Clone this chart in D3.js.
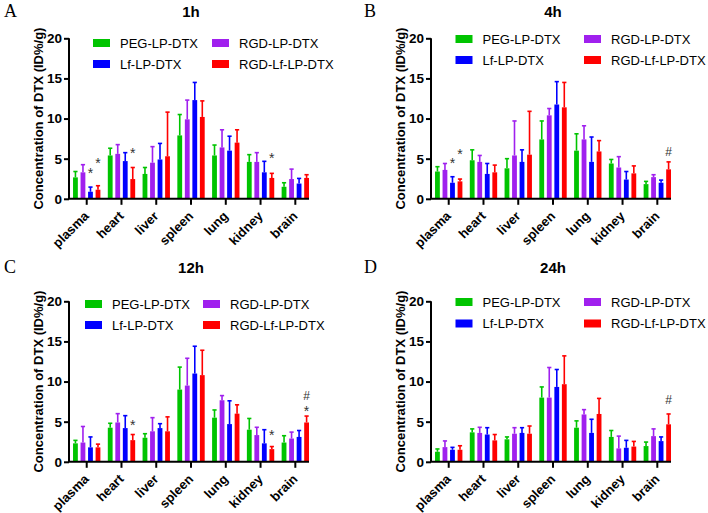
<!DOCTYPE html>
<html><head><meta charset="utf-8">
<script src="https://cdn.jsdelivr.net/npm/d3@7"></script>
<style>
html,body{margin:0;padding:0;background:#fff;}
svg{display:block;font-family:"Liberation Sans",Arial,sans-serif;}
</style></head>
<body>
<svg id="chart" width="708" height="513"></svg>
<script>
// ---- data ----
const categories = ["plasma","heart","liver","spleen","lung","kidney","brain"];
const seriesOrder = ["PEG-LP-DTX","RGD-LP-DTX","Lf-LP-DTX","RGD-Lf-LP-DTX"];   // bar order in each group
const legendOrder = ["PEG-LP-DTX","Lf-LP-DTX","RGD-LP-DTX","RGD-Lf-LP-DTX"];   // column-wise legend order
const seriesColors = ["#00c400","#a020ee","#0000ff","#ff0000"];
const yTicks = [0,5,10,15,20];
const panelTitles = ["1h","4h","12h","24h"];
const panelLetters = ["A","B","C","D"];

// 1h
const mean1h_PEG   = [2.67,5.4,3.1,7.9,5.4,4.6,1.5];
const sd1h_PEG     = [0.73,0.9,0.8,2.6,1.3,0.9,0.5];
const mean1h_RGD   = [3.3,5.6,4.5,9.9,6.4,4.6,2.46];
const sd1h_RGD     = [0.95,1.15,2.0,2.4,2.2,1.15,1.24];
const mean1h_Lf    = [0.88,4.7,4.9,12.3,6.0,3.3,1.9];
const sd1h_Lf      = [0.58,1.05,2.0,2.2,1.8,1.37,0.64];
const mean1h_RGDLf = [1.13,2.46,5.3,10.2,7.0,2.6,2.6];
const sd1h_RGDLf   = [0.5,1.44,5.5,2.0,1.6,0.57,0.4];
// 4h
const mean4h_PEG   = [3.4,4.8,3.8,7.4,6.0,4.4,1.83];
const sd4h_PEG     = [0.6,1.3,1.2,2.3,2.1,0.5,0.34];
const mean4h_RGD   = [3.6,4.6,5.4,10.4,7.4,3.9,2.7];
const sd4h_RGD     = [0.8,0.8,4.3,0.85,1.7,1.35,0.3];
const mean4h_Lf    = [2.0,3.1,4.6,11.75,4.6,2.4,2.0];
const sd4h_Lf      = [0.75,1.3,1.5,2.85,3.1,1.0,0.33];
const mean4h_RGDLf = [2.17,3.3,5.5,11.4,5.9,3.17,3.67];
const sd4h_RGDLf   = [0.29,0.9,5.4,3.1,1.35,0.93,0.93];
// 12h
const mean12h_PEG   = [2.3,4.25,3.0,9.0,5.5,4.0,2.4];
const sd12h_PEG     = [0.37,0.55,0.5,2.8,0.96,1.4,0.85];
const mean12h_RGD   = [2.4,4.9,3.8,9.5,7.67,3.33,2.9];
const sd12h_RGD     = [2.0,1.1,1.7,3.4,0.58,0.97,0.8];
const mean12h_Lf    = [1.8,4.2,4.2,11.0,4.7,2.3,3.1];
const sd12h_Lf      = [1.3,1.55,0.55,3.4,2.9,1.7,0.8];
const mean12h_RGDLf = [1.8,2.7,3.8,10.8,6.0,1.58,4.9];
const sd12h_RGDLf   = [0.4,0.7,1.8,3.1,1.1,0.32,0.8];
// 24h
const mean24h_PEG   = [1.25,3.67,2.8,8.0,4.25,3.1,1.96];
const sd24h_PEG     = [0.35,0.43,0.3,1.33,0.85,0.8,0.5];
const mean24h_RGD   = [1.83,3.6,3.5,8.0,5.9,1.67,3.2];
const sd24h_RGD     = [0.77,0.7,0.75,3.75,0.6,1.53,0.9];
const mean24h_Lf    = [1.5,3.4,3.6,9.33,3.6,1.75,2.58];
const sd24h_Lf      = [0.3,0.85,0.65,2.17,1.7,0.92,0.52];
const mean24h_RGDLf = [1.5,2.67,3.5,9.67,5.96,1.9,4.67];
const sd24h_RGDLf   = [0.5,0.73,0.96,3.53,1.94,0.64,1.29];

// significance marks: [category, series, symbol, y value of symbol centre]
const marks1h  = [["plasma","Lf-LP-DTX","*",3.6],["plasma","RGD-Lf-LP-DTX","*",4.8],["heart","RGD-Lf-LP-DTX","*",6.1],["kidney","RGD-Lf-LP-DTX","*",5.46]];
const marks4h  = [["plasma","Lf-LP-DTX","*",4.8],["plasma","RGD-Lf-LP-DTX","*",5.9],["brain","RGD-Lf-LP-DTX","#",5.83]];
const marks12h = [["heart","RGD-Lf-LP-DTX","*",4.9],["kidney","RGD-Lf-LP-DTX","*",3.75],["brain","RGD-Lf-LP-DTX","*",6.72],["brain","RGD-Lf-LP-DTX","#",8.2]];
const marks24h = [["brain","RGD-Lf-LP-DTX","#",7.7]];

const panelData = [
  {means:[mean1h_PEG,mean1h_RGD,mean1h_Lf,mean1h_RGDLf], sds:[sd1h_PEG,sd1h_RGD,sd1h_Lf,sd1h_RGDLf], marks:marks1h},
  {means:[mean4h_PEG,mean4h_RGD,mean4h_Lf,mean4h_RGDLf], sds:[sd4h_PEG,sd4h_RGD,sd4h_Lf,sd4h_RGDLf], marks:marks4h},
  {means:[mean12h_PEG,mean12h_RGD,mean12h_Lf,mean12h_RGDLf], sds:[sd12h_PEG,sd12h_RGD,sd12h_Lf,sd12h_RGDLf], marks:marks12h},
  {means:[mean24h_PEG,mean24h_RGD,mean24h_Lf,mean24h_RGDLf], sds:[sd24h_PEG,sd24h_RGD,sd24h_Lf,sd24h_RGDLf], marks:marks24h}
];

// ---- layout ----
const layout = [
  {ax:69,  top:38.3,  bottom:198.8, ox:0,   oy:0},
  {ax:431, top:38.3,  bottom:198.8, ox:354, oy:0},
  {ax:69,  top:301.3, bottom:461.8, ox:0,   oy:256},
  {ax:431, top:301.3, bottom:461.8, ox:354, oy:256}
];
const legendLayout = [
  {c1:93, c2:212, r1:43, r2:64, tx:10},
  {c1:455.5, c2:584, r1:39, r2:60, tx:10},
  {c1:85, c2:203, r1:304, r2:325, tx:10},
  {c1:455.5, c2:584, r1:302, r2:323.5, tx:10}
];
const axisLen = 240;

const svg = d3.select("#chart");
const color = d3.scaleOrdinal().domain(seriesOrder).range(seriesColors);

panelData.forEach((pd, pi) => {
  const L = layout[pi];
  const g = svg.append("g");
  const y = d3.scaleLinear().domain([0,20]).range([L.bottom, L.top]);
  const x0 = d3.scaleBand().domain(categories).range([L.ax, L.ax + axisLen])
      .paddingInner(0.213).paddingOuter(0.058).align(1);
  const x1 = d3.scaleBand().domain(seriesOrder).range([0, x0.bandwidth()]).paddingInner(0.36);

  // bars
  const rows = [];
  seriesOrder.forEach((s, si) => {
    categories.forEach((c, ci) => rows.push({s, c, v: pd.means[si][ci], sd: pd.sds[si][ci]}));
  });
  const bars = g.append("g");
  bars.selectAll("rect").data(rows).join("rect")
    .attr("x", d => x0(d.c) + x1(d.s))
    .attr("y", d => y(d.v))
    .attr("width", x1.bandwidth())
    .attr("height", d => y(0) - y(d.v))
    .attr("fill", d => color(d.s));
  // error bars
  const eb = g.append("g").attr("stroke-width", 1.6);
  eb.selectAll("line.v").data(rows).join("line").attr("class","v")
    .attr("x1", d => x0(d.c) + x1(d.s) + x1.bandwidth()/2)
    .attr("x2", d => x0(d.c) + x1(d.s) + x1.bandwidth()/2)
    .attr("y1", d => y(d.v)).attr("y2", d => y(d.v + d.sd))
    .attr("stroke", d => color(d.s));
  eb.selectAll("line.c").data(rows).join("line").attr("class","c")
    .attr("x1", d => x0(d.c) + x1(d.s) + 0.3)
    .attr("x2", d => x0(d.c) + x1(d.s) + x1.bandwidth() - 0.3)
    .attr("y1", d => y(d.v + d.sd)).attr("y2", d => y(d.v + d.sd))
    .attr("stroke", d => color(d.s));

  // significance marks
  g.append("g").selectAll("text").data(pd.marks).join("text")
    .attr("x", d => x0(d[0]) + x1(d[1]) + x1.bandwidth()/2)
    .attr("y", d => y(d[3]) + (d[2] === "*" ? 8 : 4.3))
    .attr("text-anchor","middle")
    .attr("font-size", d => d[2] === "*" ? 14 : 12)
    .attr("fill","#333")
    .text(d => d[2]);

  // y axis
  const yAxis = g.append("g").attr("transform", `translate(${L.ax},0)`)
    .call(d3.axisLeft(y).tickValues(yTicks).tickSize(5).tickPadding(2));
  yAxis.select(".domain").attr("stroke-width", 2).attr("d", `M0,${L.top}V${L.bottom}`);
  yAxis.selectAll(".tick line").attr("stroke-width", 2);
  yAxis.selectAll(".tick text").attr("font-size", 13.5).attr("font-weight","bold")
    .attr("font-family","'Liberation Sans',Arial,sans-serif").attr("fill","#000");

  // x axis
  const xAxis = g.append("g").attr("transform", `translate(0,${L.bottom})`)
    .call(d3.axisBottom(x0).tickSize(6).tickSizeOuter(0));
  xAxis.select(".domain").attr("stroke-width", 2).attr("d", `M${L.ax-1},0H${L.ax + axisLen}`);
  xAxis.selectAll(".tick line").attr("stroke-width", 2);
  xAxis.selectAll(".tick text")
    .attr("font-size", 13).attr("font-weight","bold")
    .attr("font-family","'Liberation Sans',Arial,sans-serif").attr("fill","#000")
    .attr("text-anchor","end").attr("dy", null).attr("y", 0)
    .attr("transform","translate(3,18) rotate(-45)");

  // y label
  g.append("text")
    .attr("transform", `translate(${L.ax - 31},${(L.top + L.bottom)/2}) rotate(-90)`)
    .attr("text-anchor","middle").attr("dominant-baseline","central")
    .attr("font-size", 13).attr("font-weight","bold")
    .text("Concentration of DTX (ID%/g)");

  // title
  g.append("text").attr("x", L.ax + 122).attr("y", L.oy + 17)
    .attr("text-anchor","middle").attr("font-size", 15).attr("font-weight","bold")
    .text(panelTitles[pi]);
  // panel letter
  g.append("text").attr("x", L.ox + (pi % 2 ? 10 : 4)).attr("y", L.oy + 17)
    .attr("font-family","'Liberation Serif','Times New Roman',serif").attr("font-size", 18)
    .text(panelLetters[pi]);

  // legend
  const LL = legendLayout[pi];
  const legItems = legendOrder.map((s, i) => ({s, x: i < 2 ? LL.c1 : LL.c2, y: i % 2 === 0 ? LL.r1 : LL.r2}));
  const lg = g.append("g").selectAll("g").data(legItems).join("g")
    .attr("transform", d => `translate(${d.x},${d.y})`);
  lg.append("rect").attr("x",0).attr("y",-4).attr("width",17).attr("height",8).attr("fill", d => color(d.s));
  lg.append("text").attr("x", 17 + LL.tx).attr("y", 0).attr("dominant-baseline","central")
    .attr("font-size", 13).text(d => d.s);
});
</script>
</body></html>
